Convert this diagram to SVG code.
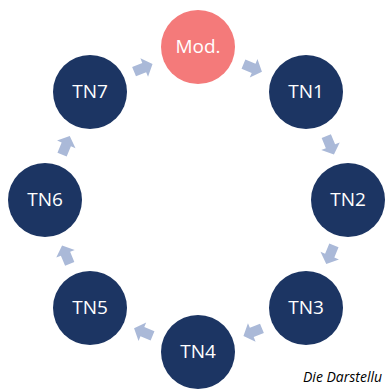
<svg xmlns="http://www.w3.org/2000/svg" width="385" height="389" viewBox="0 0 385 389">
<style>
.n{fill:#1c3563}
.m{fill:#f47a7a}
.t{fill:#ffffff;font-family:"Open Sans","Liberation Sans",sans-serif;font-size:19px;text-anchor:middle;dominant-baseline:central}
.a{fill:#aab9d8}
.cap{fill:#000;font-family:"Open Sans","Liberation Sans",sans-serif;font-style:italic;font-size:14px}
</style>
<defs>
<path id="arr" d="M-10,-5 L1,-5 L1,-10 L10,0 L1,10 L1,5 L-10,5 Z"/>
</defs>
<rect width="385" height="389" fill="#ffffff"/>
<g id="connectors">
<use href="#arr" class="a" transform="translate(252.7,67.9) rotate(22.5)"/>
<use href="#arr" class="a" transform="translate(330.1,145.3) rotate(67.5)"/>
<use href="#arr" class="a" transform="translate(330.1,254.7) rotate(112.5)"/>
<use href="#arr" class="a" transform="translate(252.7,332.1) rotate(157.5)"/>
<use href="#arr" class="a" transform="translate(143.3,332.1) rotate(202.5)"/>
<use href="#arr" class="a" transform="translate(65.9,254.7) rotate(247.5)"/>
<use href="#arr" class="a" transform="translate(65.9,145.3) rotate(292.5)"/>
<use href="#arr" class="a" transform="translate(143.3,67.9) rotate(337.5)"/>
</g>
<g id="mod"><circle class="m" cx="198" cy="47" r="37"/><text class="t" x="198" y="46">Mod.</text></g>
<g id="tn1"><circle class="n" cx="306" cy="92" r="37"/><text class="t" x="306" y="91">TN1</text></g>
<g id="tn2"><circle class="n" cx="348" cy="200" r="37"/><text class="t" x="348" y="199">TN2</text></g>
<g id="tn3"><circle class="n" cx="306" cy="308" r="37"/><text class="t" x="306" y="307">TN3</text></g>
<g id="tn4"><circle class="n" cx="198" cy="352" r="37"/><text class="t" x="198" y="351">TN4</text></g>
<g id="tn5"><circle class="n" cx="90" cy="308" r="37"/><text class="t" x="90" y="307">TN5</text></g>
<g id="tn6"><circle class="n" cx="45" cy="200" r="37"/><text class="t" x="45" y="199">TN6</text></g>
<g id="tn7"><circle class="n" cx="90" cy="92" r="37"/><text class="t" x="90" y="91">TN7</text></g>
<text class="cap" x="303" y="382">Die Darstellu</text>
</svg>
